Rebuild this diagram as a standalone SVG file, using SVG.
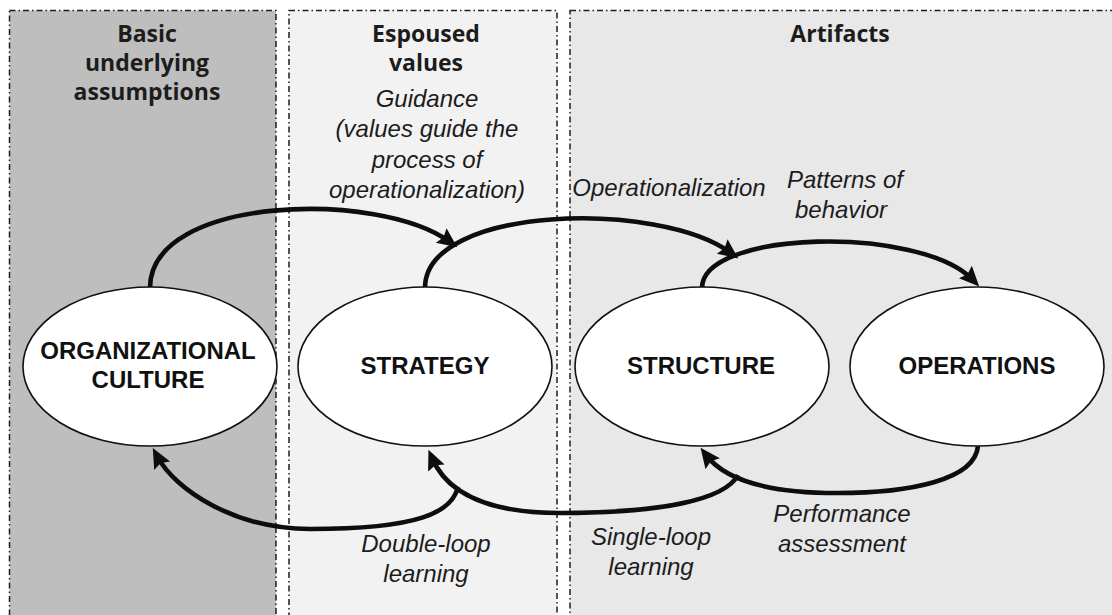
<svg xmlns="http://www.w3.org/2000/svg" width="1112" height="615" viewBox="0 0 1112 615">
  <style>
    .panel { stroke: #1e1e1e; stroke-width: 1.5; stroke-dasharray: 6 3 1.5 3; }
    .head { font-family: "Open Sans", "Liberation Sans", sans-serif; font-weight: 700; font-size: 23px; fill: #1c1c1c; text-anchor: middle; }
    .note { font-family: "Liberation Sans", Arial, sans-serif; font-style: italic; font-size: 24px; fill: #1c1c1c; text-anchor: middle; }
    .node ellipse { fill: #ffffff; stroke: #111111; stroke-width: 1.6; }
    .node text { font-family: "Liberation Sans", Arial, sans-serif; font-weight: 700; font-size: 24px; fill: #111111; text-anchor: middle; }
    .link { fill: none; stroke: #0d0d0d; stroke-width: 4.6; marker-end: url(#head); }
  </style>
  <defs>
    <marker id="head" viewBox="0 0 20 20" refX="11" refY="10" markerWidth="20" markerHeight="20" markerUnits="userSpaceOnUse" orient="auto">
      <path d="M0,1 L20,10 L0,19 L3,10 Z" fill="#0d0d0d"/>
    </marker>
  </defs>

  <rect width="1112" height="615" fill="#ffffff"/>

  <!-- culture levels -->
  <g id="level-assumptions">
    <rect class="panel" x="9.5" y="10.5" width="266.5" height="630" fill="#bebebe"/>
    <text class="head" x="147" y="42">Basic</text>
    <text class="head" x="147" y="71">underlying</text>
    <text class="head" x="147" y="100">assumptions</text>
  </g>
  <g id="level-values">
    <rect class="panel" x="289" y="10.5" width="268" height="630" fill="#f2f2f2"/>
    <text class="head" x="426" y="42">Espoused</text>
    <text class="head" x="426" y="71">values</text>
    <text class="note" x="427" y="107">Guidance</text>
    <text class="note" x="427" y="137">(values guide the</text>
    <text class="note" x="427" y="168">process of</text>
    <text class="note" x="427" y="198">operationalization)</text>
  </g>
  <g id="level-artifacts">
    <rect class="panel" x="570" y="10.5" width="560" height="630" fill="#e8e8e8"/>
    <text class="head" x="840" y="42">Artifacts</text>
  </g>

  <!-- connectors -->
  <g id="connectors">
    <path id="guidance" class="link" d="M150,288 C150,195 380,190 450,242"/>
    <path id="operationalization" class="link" d="M425,288 C425,205 660,200 731,253"/>
    <path id="patterns" class="link" d="M702,288 C702,230 920,225 973,280"/>
    <path id="single-loop" class="link" d="M738,475 C725,500 660,513 560,513 C500,513 450,500 432,458"/>
    <path id="double-loop" class="link" d="M458,487 C452,512 420,529 310,529 C235,529 175,490 157,456"/>
    <path id="performance" class="link" d="M978,446 C975,480 910,493 837,493 C770,493 725,480 706,455"/>
    <text class="note" x="669" y="196">Operationalization</text>
    <text class="note" x="845" y="188">Patterns of</text>
    <text class="note" x="841" y="218">behavior</text>
    <text class="note" x="426" y="552">Double-loop</text>
    <text class="note" x="426" y="582">learning</text>
    <text class="note" x="651" y="545">Single-loop</text>
    <text class="note" x="651" y="575">learning</text>
    <text class="note" x="842" y="522">Performance</text>
    <text class="note" x="842" y="552">assessment</text>
  </g>

  <!-- nodes -->
  <g id="culture" class="node">
    <ellipse cx="150" cy="366.5" rx="127" ry="79.5"/>
    <text x="148" y="359">ORGANIZATIONAL</text>
    <text x="148" y="388">CULTURE</text>
  </g>
  <g id="strategy" class="node">
    <ellipse cx="425" cy="366.5" rx="127" ry="79.5"/>
    <text x="425" y="374">STRATEGY</text>
  </g>
  <g id="structure" class="node">
    <ellipse cx="702" cy="366.5" rx="127" ry="79.5"/>
    <text x="701" y="374">STRUCTURE</text>
  </g>
  <g id="operations" class="node">
    <ellipse cx="977" cy="366.5" rx="127" ry="79.5"/>
    <text x="977" y="374">OPERATIONS</text>
  </g>
</svg>
